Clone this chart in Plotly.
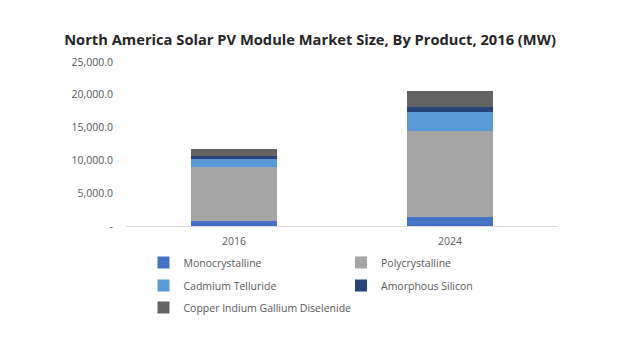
import plotly.graph_objects as go

years = ["2016", "2024"]
series_names = ["Monocrystalline", "Polycrystalline", "Cadmium Telluride",
                "Amorphous Silicon", "Copper Indium Gallium Diselenide"]
mono = [760, 1300]
poly = [8200, 13200]
cdte = [1350, 2900]
amorph = [300, 700]
cigs = [1100, 2450]
colors = ["#4472C4", "#A5A5A5", "#5B9BD5", "#264478", "#636363"]
legend_rows = ["legend", "legend", "legend2", "legend2", "legend3"]
y_ticks = [0, 5000, 10000, 15000, 20000, 25000]
y_tick_labels = ["-", "5,000.0", "10,000.0", "15,000.0", "20,000.0", "25,000.0"]

fig = go.Figure()
for name, vals, col, lg in zip(series_names, [mono, poly, cdte, amorph, cigs],
                               colors, legend_rows):
    fig.add_trace(go.Bar(x=years, y=vals, name=name, marker_color=col,
                         marker_line_width=0, legend=lg))

legend_common = dict(orientation="h", x=0.0405, xanchor="left", yanchor="top",
                     entrywidth=152.5, entrywidthmode="pixels", itemwidth=30,
                     traceorder="normal", bgcolor="rgba(0,0,0,0)",
                     font=dict(size=10.5, color="#595959"))

fig.update_layout(
    width=620, height=354,
    barmode="stack", bargap=0.6,
    plot_bgcolor="white", paper_bgcolor="white",
    margin=dict(l=126, r=62, t=62, b=128, autoexpand=False),
    font=dict(family="Open Sans", size=10, color="#595959"),
    title=dict(text="<b>North America Solar PV Module Market Size, By Product, 2016 (MW)</b>",
               x=0.5, xanchor="center", y=0.888, yanchor="middle",
               font=dict(family="Open Sans", size=14.7, color="#262626")),
    xaxis=dict(showline=True, linecolor="#D9D9D9", linewidth=1, ticks="",
               showgrid=False, ticklabelstandoff=5,
               tickfont=dict(size=10.5, color="#595959")),
    yaxis=dict(range=[0, 25000], tickvals=y_ticks, ticktext=y_tick_labels,
               showgrid=False, zeroline=False, showline=False, ticks="",
               ticklabelstandoff=12,
               tickfont=dict(size=10.5, color="#595959")),
    legend=dict(legend_common, y=-0.134),
    legend2=dict(legend_common, y=-0.274),
    legend3=dict(legend_common, y=-0.409, entrywidth=300),
    showlegend=True,
)

fig.write_html("out.html")
